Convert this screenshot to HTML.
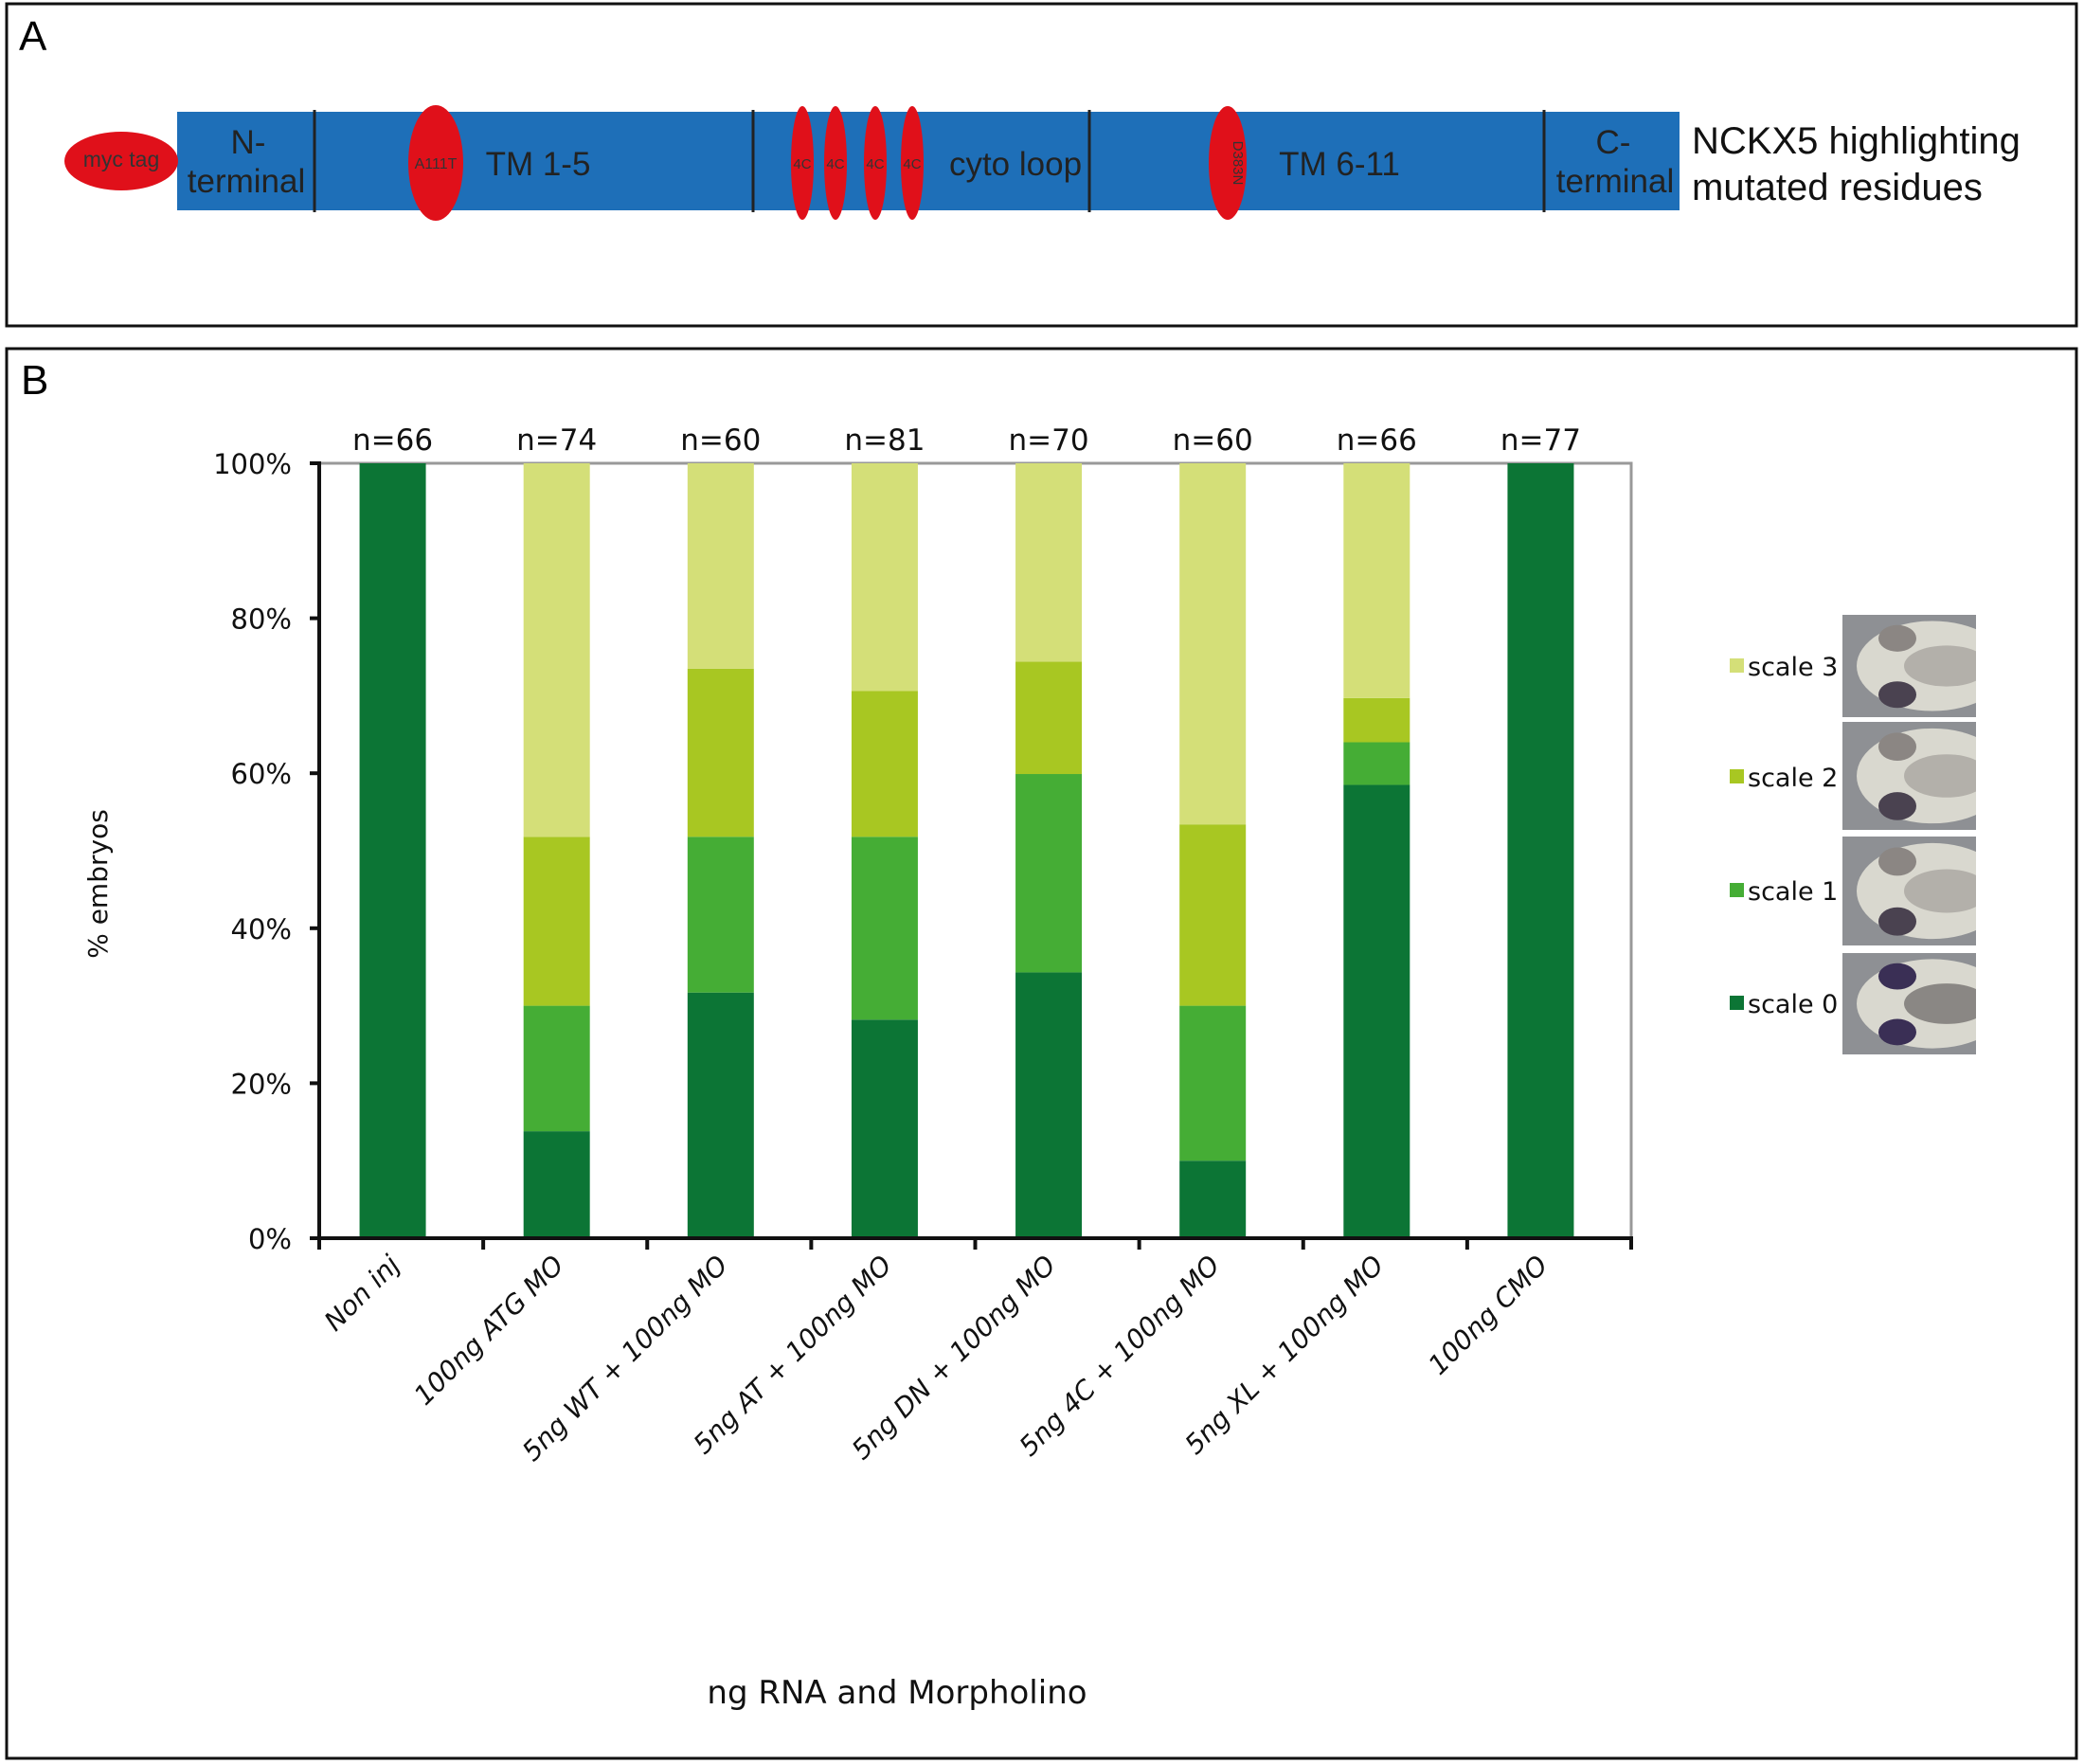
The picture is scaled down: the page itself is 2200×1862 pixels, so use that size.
<!DOCTYPE html>
<html><head><meta charset="utf-8"><style>
html,body{margin:0;padding:0;background:#fff;}
svg{display:block;}
text{font-family:"DejaVu Sans","Liberation Sans",sans-serif;}
.na{font-family:"Liberation Sans Narrow","Liberation Sans",sans-serif;}
</style></head><body>
<svg id="fig" width="2200" height="1862" viewBox="0 0 2200 1862" xmlns="http://www.w3.org/2000/svg">
<defs><clipPath id="imgclip0"><rect x="1945" y="1006" width="141" height="107"/></clipPath><clipPath id="imgclip1"><rect x="1945" y="883" width="141" height="115"/></clipPath><clipPath id="imgclip2"><rect x="1945" y="762" width="141" height="114"/></clipPath><clipPath id="imgclip3"><rect x="1945" y="649" width="141" height="108"/></clipPath></defs>
<!-- Panel A -->
<g>
<rect x="7" y="4" width="2185" height="340" fill="none" stroke="#111" stroke-width="3"/>
<text x="20" y="53" font-size="44" class="na">A</text>
<rect x="187" y="118" width="1586" height="104" fill="#1e6fb8"/>
<g stroke="#222" stroke-width="3">
<line x1="332" y1="116" x2="332" y2="224"/><line x1="795" y1="116" x2="795" y2="224"/><line x1="1150" y1="116" x2="1150" y2="224"/><line x1="1630" y1="116" x2="1630" y2="224"/>
</g>
<ellipse cx="128" cy="170" rx="60" ry="31" fill="#e0101a"/>
<text x="128" y="176" font-size="23" text-anchor="middle" class="na" fill="#333">myc tag</text>
<ellipse cx="460" cy="172" rx="29" ry="61" fill="#e0101a"/>
<text x="460" y="178" font-size="16" text-anchor="middle" class="na" fill="#333">A111T</text>
<g>
<ellipse cx="847" cy="172" rx="12" ry="60" fill="#e0101a"/><ellipse cx="882" cy="172" rx="12" ry="60" fill="#e0101a"/><ellipse cx="924" cy="172" rx="12" ry="60" fill="#e0101a"/><ellipse cx="963" cy="172" rx="12" ry="60" fill="#e0101a"/>
<text x="847" y="178" font-size="15" text-anchor="middle" class="na" fill="#333">4C</text><text x="882" y="178" font-size="15" text-anchor="middle" class="na" fill="#333">4C</text><text x="924" y="178" font-size="15" text-anchor="middle" class="na" fill="#333">4C</text><text x="963" y="178" font-size="15" text-anchor="middle" class="na" fill="#333">4C</text>
</g>
<ellipse cx="1296" cy="172" rx="20" ry="60" fill="#e0101a"/>
<text transform="translate(1302,172) rotate(90)" font-size="15" text-anchor="middle" class="na" fill="#333">D383N</text>
<g font-size="35" class="na" fill="#222" text-anchor="middle">
<text x="262" y="162" class="na">N-</text><text x="260" y="203" class="na">terminal</text>
<text x="568" y="185" class="na">TM 1-5</text>
<text x="1072" y="185" class="na">cyto loop</text>
<text x="1414" y="185" class="na">TM 6-11</text>
<text x="1703" y="162" class="na">C-</text><text x="1705" y="203" class="na">terminal</text>
</g>
<text x="1786" y="162" font-size="40" class="na" fill="#111">NCKX5 highlighting</text>
<text x="1786" y="211" font-size="40" class="na" fill="#111">mutated residues</text>
</g>
<!-- Panel B -->
<g>
<rect x="7" y="368" width="2185" height="1488" fill="none" stroke="#111" stroke-width="3"/>
<text x="22" y="416" font-size="44" class="na">B</text>
<g id="chart"></g>
<g id="legend"></g>
</g>
</svg>
<script>
const categories = ["Non inj","100ng ATG MO","5ng WT + 100ng MO","5ng AT + 100ng MO","5ng DN  + 100ng MO","5ng 4C + 100ng MO","5ng XL + 100ng MO","100ng CMO"];
const nLabels = ["n=66","n=74","n=60","n=81","n=70","n=60","n=66","n=77"];
const scale0 = [100,13.8,31.7,28.2,34.3,10,58.5,100];
const scale1 = [0,16.2,20.1,23.6,25.6,20,5.5,0];
const scale2 = [0,21.8,21.7,18.8,14.5,23.4,5.7,0];
const scale3 = [0,48.2,26.5,29.4,25.6,46.6,30.3,0];
const yTicks = [0,20,40,60,80,100];
const seriesNames = ["scale 0","scale 1","scale 2","scale 3"];
const colors = ["#0c7535","#45ad35","#a8c722","#d4df78"];

const NS="http://www.w3.org/2000/svg";
const L=337,R=1722,T=489,B=1307;
const n=categories.length, cw=(R-L)/n, bw=70;
const yS=v=>B-(v/100)*(B-T);
const xC=i=>L+cw*(i+0.5);
const g=document.getElementById('chart');
function mk(tag,attrs,parent){const e=document.createElementNS(NS,tag);for(const k in attrs)e.setAttribute(k,attrs[k]);(parent||g).appendChild(e);return e;}
let fr=mk('path',{d:`M${L} ${T}H${R}V${B}`,fill:'none',stroke:'#999','stroke-width':3});


const series=[scale0,scale1,scale2,scale3];
for(let i=0;i<n;i++){
  let acc=0;
  for(let s=0;s<4;s++){
    const v=series[s][i]; if(v<=0) continue;
    const r=mk('rect',{x:xC(i)-9-bw/2,y:yS(acc+v),width:bw,height:yS(acc)-yS(acc+v),fill:colors[s]});
    
    
    acc+=v;
  }
  const t=mk('text',{x:xC(i)-9,y:T-14,'font-size':31,'text-anchor':'middle',fill:'#111'});
  t.textContent=nLabels[i];
  
  
  const xl=mk('text',{transform:`translate(${xC(i)},${B+30}) rotate(-45)`,'font-size':28,'text-anchor':'end',fill:'#111','font-style':'italic'});
  xl.textContent=categories[i];
  
  
}
let ya=mk('line',{x1:L,y1:T-2,x2:L,y2:B+2,stroke:'#111','stroke-width':4});


let xa=mk('line',{x1:L-2,y1:B,x2:R+2,y2:B,stroke:'#111','stroke-width':4});


yTicks.forEach(v=>{
  mk('line',{x1:L-10,y1:yS(v),x2:L,y2:yS(v),stroke:'#111','stroke-width':4});
  const t=mk('text',{x:308,y:yS(v)+11,'font-size':29,'text-anchor':'end',fill:'#111'});
  t.textContent=v+'%';
  
  
});
for(let i=0;i<=n;i++) mk('line',{x1:L+cw*i,y1:B,x2:L+cw*i,y2:B+12,stroke:'#111','stroke-width':4});
let yt=mk('text',{transform:'translate(113,933) rotate(-90)','font-size':28,'text-anchor':'middle',fill:'#111'});
yt.textContent='% embryos';


let xt=mk('text',{x:947,y:1798,'font-size':34,'text-anchor':'middle',fill:'#111'});
xt.textContent='ng RNA and Morpholino';


const lg=document.getElementById('legend');
const legY=[1059,940,820,703];
const imgY=[[1006,1113],[883,998],[762,876],[649,757]];
for(let s=0;s<4;s++){
  const sq=mk('rect',{x:1826,y:legY[s]-8,width:15,height:15,fill:colors[s]},lg);
  
  
  const t=mk('text',{x:1845,y:legY[s]+10,'font-size':27,fill:'#111'},lg);
  t.textContent=seriesNames[s];
  
  
  const [y0,y1]=imgY[s]; const h=y1-y0;
  const im=mk('g',{'clip-path':`url(#imgclip${s})`},lg);
  
  
  mk('rect',{x:1945,y:y0,width:141,height:h,fill:'#8e9094'},im);
  mk('ellipse',{cx:2040,cy:y0+h/2,rx:80,ry:h*0.44,fill:'#d9d8cf'},im);
  mk('ellipse',{cx:2055,cy:y0+h/2,rx:45,ry:h*0.2,fill:s===0?'#8a8784':'#b3b0aa'},im);
  const eye=s===0?'#3a2f55':'#4a4250';
  mk('ellipse',{cx:2003,cy:y0+h*0.23,rx:20,ry:h*0.13,fill:s===0?eye:'#8b8683'},im);
  mk('ellipse',{cx:2003,cy:y0+h*0.78,rx:20,ry:h*0.13,fill:eye},im);
}
</script>
</body></html>
